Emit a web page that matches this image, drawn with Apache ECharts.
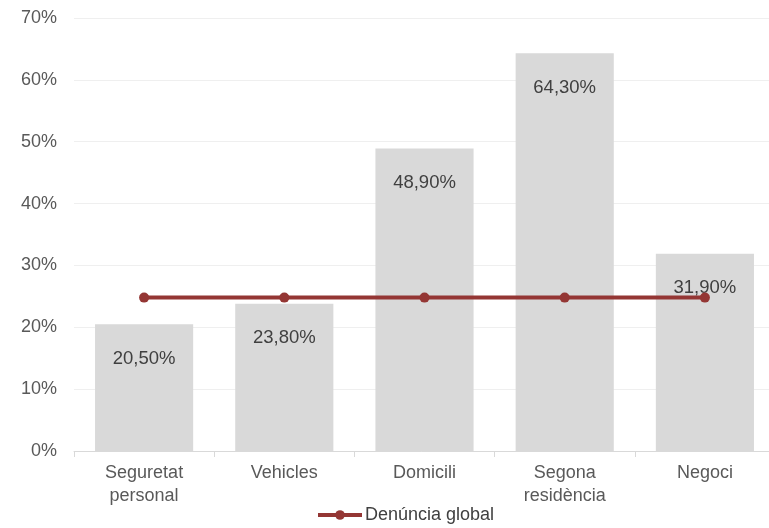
<!DOCTYPE html>
<html>
<head>
<meta charset="utf-8">
<script src="https://cdn.jsdelivr.net/npm/echarts@6/dist/echarts.min.js"></script>
<style>
  html, body { margin: 0; padding: 0; background: #fff; }
  #chart { width: 769px; height: 528px; }
</style>
</head>
<body>
<div id="chart"></div>
<script>
const categories = ['Seguretat\npersonal', 'Vehicles', 'Domicili', 'Segona\nresidència', 'Negoci'];
const victimValues = [20.5, 23.8, 48.9, 64.3, 31.9];
const globalValues = [24.8, 24.8, 24.8, 24.8, 24.8];
const yTicks = [0, 10, 20, 30, 40, 50, 60, 70];

const fmt = (v) => v.toFixed(2).replace('.', ',') + '%';

const chart = echarts.init(document.getElementById('chart'));
chart.setOption({
  animation: false,
  textStyle: { fontFamily: 'Liberation Sans, Arial, sans-serif' },
  grid: { left: 74, width: 701, top: 18, height: 433, outerBoundsMode: 'none' },
  legend: {
    data: ['Denúncia global'],
    top: 501,
    left: 311,
    itemWidth: 44,
    itemHeight: 12,
    itemGap: 4,
    lineStyle: { width: 4 },
    textStyle: { fontSize: 18, color: '#404040', padding: [0, 0, 0, -2] }
  },
  xAxis: {
    type: 'category',
    data: categories,
    axisLine: { lineStyle: { color: '#d9d9d9', width: 1 } },
    axisTick: { show: true, length: 6, lineStyle: { color: '#d9d9d9' } },
    axisLabel: { fontSize: 18, color: '#595959', margin: 11, lineHeight: 23 }
  },
  yAxis: {
    type: 'value',
    min: yTicks[0],
    max: yTicks[yTicks.length - 1],
    interval: 10,
    axisLine: { show: false },
    axisTick: { show: false },
    splitLine: { lineStyle: { color: '#efefef', width: 1 } },
    axisLabel: { fontSize: 18, color: '#595959', margin: 17, formatter: (v) => v + '%' }
  },
  series: [
    {
      name: 'Víctimes',
      type: 'bar',
      data: victimValues,
      barWidth: '70%',
      itemStyle: { color: '#d9d9d9' },
      label: {
        show: true,
        position: 'insideTop',
        distance: 25,
        fontSize: 18.5,
        color: '#404040',
        formatter: (p) => fmt(p.value)
      }
    },
    {
      name: 'Denúncia global',
      type: 'line',
      data: globalValues,
      symbol: 'circle',
      symbolSize: 10,
      lineStyle: { color: '#943634', width: 4 },
      itemStyle: { color: '#943634' }
    }
  ]
});
</script>
</body>
</html>
